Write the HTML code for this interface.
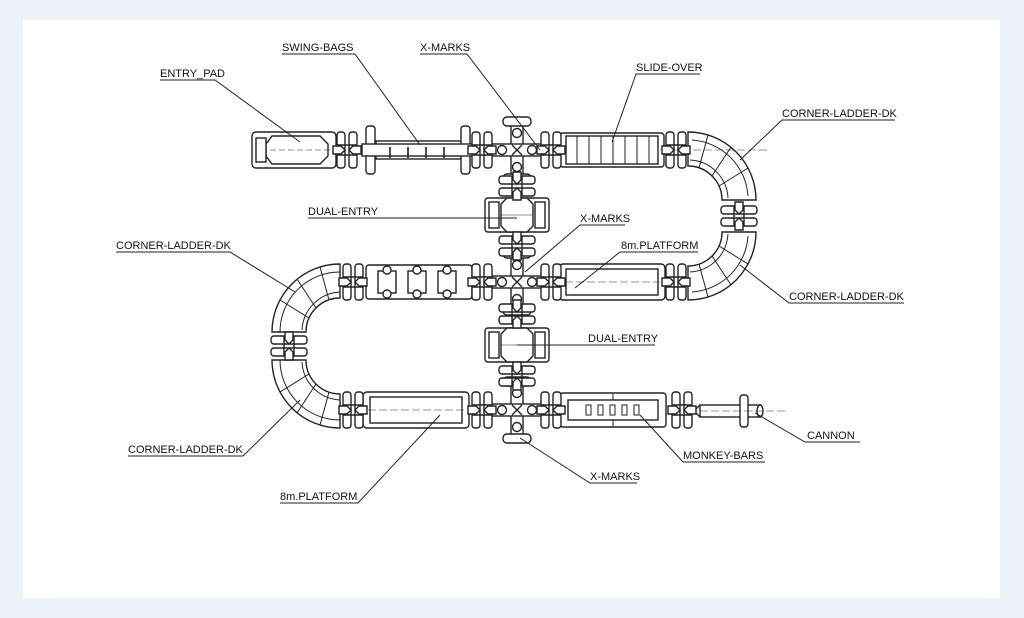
<!DOCTYPE html>
<html><head><meta charset="utf-8"><style>
html,body{margin:0;padding:0;background:#edf1f8;}
svg{display:block}
text{font-family:"Liberation Sans",sans-serif;font-size:11px;fill:#111;}
</style></head><body>
<svg width="1024" height="618" viewBox="0 0 1024 618" xmlns="http://www.w3.org/2000/svg">
<rect x="0" y="0" width="1024" height="618" fill="#edf1f8"/>
<rect x="23" y="20" width="977" height="578" fill="#fff"/>
<defs>
  <g id="cn" fill="#fff" stroke="#222" stroke-width="1.4">
    <rect x="-10" y="-18" width="8" height="36" rx="3"/>
    <rect x="2" y="-18" width="8" height="36" rx="3"/>
    <line x1="-10" y1="-5" x2="10" y2="-5"/><line x1="-10" y1="5" x2="10" y2="5"/>
    <path d="M-14 -4 L-6 -4 L-2 0 L-6 4 L-14 4 Z"/>
    <path d="M14 -4 L6 -4 L2 0 L6 4 L14 4 Z"/>
  </g>
  <g id="xm" fill="#fff" stroke="#222" stroke-width="1.4">
    <rect x="-6" y="-32" width="12" height="64"/>
    <rect x="-27" y="-6" width="54" height="12"/>
    <rect x="-14" y="-33" width="28" height="9" rx="4"/>
    <rect x="-14" y="24" width="28" height="9" rx="4"/>
    <circle cx="0" cy="-17" r="4.5"/><circle cx="0" cy="17" r="4.5"/>
    <circle cx="-15" cy="0" r="4.5"/><circle cx="15" cy="0" r="4.5"/>
    <path d="M-5 -5 L5 5 M-5 5 L5 -5"/>
  </g>
  <g id="de" fill="#fff" stroke="#222" stroke-width="1.4">
    <rect x="-32" y="-17" width="64" height="34" rx="3"/>
    <rect x="-28" y="-13" width="10" height="26"/><rect x="18" y="-13" width="10" height="26"/>
    <path d="M-10 -17 L10 -17 L16 -11 L16 11 L10 17 L-10 17 L-16 11 L-16 -11 Z"/>
    <line x1="-16" y1="0" x2="16" y2="0" stroke-width="0.6"/>
  </g>
  <g id="plat" fill="#fff" stroke="#222" stroke-width="1.4">
    <rect x="-53" y="-18" width="106" height="36" rx="4"/>
    <rect x="-46" y="-13" width="92" height="26"/>
  </g>
</defs>

<g fill="#fff" stroke="#222" stroke-width="1.4">
<rect x="252" y="132" width="84" height="36" rx="4"/>
<path d="M272 136 L320 136 L328 144 L328 156 L320 164 L272 164 L266 156 L266 144 Z"/>
<rect x="256" y="138" width="10" height="24"/>
<line x1="270" y1="150" x2="330" y2="150" stroke-width="0.5" stroke-dasharray="6 3"/>
<rect x="376" y="141" width="86" height="18"/>
<rect x="366" y="126" width="9" height="48" rx="3"/>
<rect x="461" y="126" width="9" height="48" rx="3"/>
<rect x="362" y="144" width="112" height="12"/>
<g stroke-width="1.6"><line x1="390" y1="147" x2="390" y2="158"/><line x1="408" y1="147" x2="408" y2="158"/><line x1="426" y1="147" x2="426" y2="158"/><line x1="444" y1="147" x2="444" y2="158"/></g>
<rect x="560" y="133" width="104" height="34" rx="3"/>
<rect x="566" y="136" width="92" height="28"/>
<g stroke-width="1"><line x1="577" y1="136" x2="577" y2="164"/><line x1="589" y1="136" x2="589" y2="164"/><line x1="601" y1="136" x2="601" y2="164"/><line x1="613" y1="136" x2="613" y2="164"/><line x1="625" y1="136" x2="625" y2="164"/><line x1="637" y1="136" x2="637" y2="164"/><line x1="649" y1="136" x2="649" y2="164"/></g>
<path d="M688 132 A68 68 0 0 1 756 200 L722 200 A34 34 0 0 0 688 166 Z"/>
<path d="M688 300 A68 68 0 0 0 756 232 L722 232 A34 34 0 0 1 688 266 Z"/>
<g stroke-width="1">
<line x1="708" y1="135" x2="699" y2="168"/><line x1="731" y1="147" x2="712" y2="176"/><line x1="748" y1="168" x2="719" y2="186"/>
<line x1="708" y1="297" x2="699" y2="264"/><line x1="731" y1="285" x2="712" y2="256"/><line x1="748" y1="264" x2="719" y2="246"/>
<path d="M692 140 A60 60 0 0 1 748 196 M692 292 A60 60 0 0 0 748 236 M690 160 A40 40 0 0 1 728 198 M690 272 A40 40 0 0 0 728 234" fill="none"/>
</g>
<path d="M340 264 A68 68 0 0 0 272 332 L306 332 A34 34 0 0 1 340 298 Z"/>
<path d="M340 428 A68 68 0 0 1 272 360 L306 360 A34 34 0 0 0 340 394 Z"/>
<g stroke-width="1">
<line x1="320" y1="267" x2="329" y2="300"/><line x1="297" y1="279" x2="316" y2="308"/><line x1="280" y1="300" x2="309" y2="318"/>
<line x1="320" y1="425" x2="329" y2="392"/><line x1="297" y1="413" x2="316" y2="384"/><line x1="280" y1="392" x2="309" y2="374"/>
<path d="M340 272 A60 60 0 0 0 280 332 M340 420 A60 60 0 0 1 280 360 M340 292 A40 40 0 0 0 302 330 M340 400 A40 40 0 0 1 302 362" fill="none"/>
</g>
<rect x="366" y="265" width="106" height="34" rx="3"/>
<rect x="378" y="271" width="18" height="22"/><rect x="408" y="271" width="18" height="22"/><rect x="438" y="271" width="18" height="22"/>
<circle cx="387" cy="270" r="4"/><circle cx="387" cy="294" r="4"/><circle cx="417" cy="270" r="4"/><circle cx="417" cy="294" r="4"/><circle cx="447" cy="270" r="4"/><circle cx="447" cy="294" r="4"/>
<rect x="560" y="393" width="106" height="34" rx="3"/>
<rect x="568" y="400" width="90" height="20"/>
<g stroke-width="1"><rect x="586" y="405" width="5" height="10"/><rect x="598" y="405" width="5" height="10"/><rect x="610" y="405" width="5" height="10"/><rect x="622" y="405" width="5" height="10"/><rect x="634" y="405" width="5" height="10"/><line x1="613" y1="393" x2="613" y2="400"/><line x1="613" y1="420" x2="613" y2="427"/></g>
<rect x="700" y="405" width="60" height="12"/>
<ellipse cx="760" cy="411" rx="3" ry="6"/>
<rect x="740" y="395" width="8" height="32" rx="3"/>
<path d="M700 405 L694 411 L700 417" fill="none"/>
</g>
<use href="#plat" x="612" y="282"/>
<use href="#plat" x="416" y="410"/>
<g stroke="#333" stroke-width="0.5" stroke-dasharray="8 3" fill="none">
<line x1="565" y1="282" x2="660" y2="282"/><line x1="368" y1="410" x2="465" y2="410"/><line x1="660" y1="150" x2="770" y2="150"/><line x1="700" y1="411" x2="785" y2="411"/>
</g>
<use href="#xm" x="517" y="150"/>
<use href="#xm" x="517" y="282"/>
<use href="#xm" x="517" y="410"/>
<use href="#de" x="517" y="215"/>
<use href="#de" x="517" y="345"/>
<use href="#cn" x="347" y="150"/><use href="#cn" x="482" y="150"/><use href="#cn" x="551" y="150"/><use href="#cn" x="676" y="150"/>
<use href="#cn" x="353" y="282"/><use href="#cn" x="482" y="282"/><use href="#cn" x="551" y="282"/><use href="#cn" x="676" y="282"/>
<use href="#cn" x="353" y="410"/><use href="#cn" x="482" y="410"/><use href="#cn" x="551" y="410"/><use href="#cn" x="682" y="410"/>
<use href="#cn" transform="translate(517,186) rotate(90)"/>
<use href="#cn" transform="translate(517,246) rotate(90)"/>
<use href="#cn" transform="translate(517,314) rotate(90)"/>
<use href="#cn" transform="translate(517,376) rotate(90)"/>
<use href="#cn" transform="translate(739,216) rotate(90)"/>
<use href="#cn" transform="translate(289,346) rotate(90)"/>

<g stroke="#222" stroke-width="1" fill="none">
<path d="M160 80 H215 L300 142"/>
<path d="M282 54 H355 L420 145"/>
<path d="M420 54 H467 L540 150"/>
<path d="M700 74 H636 L612 142"/>
<path d="M895 120 H782 L740 160"/>
<path d="M308 218 H517"/>
<path d="M625 225 H580 L525 272"/>
<path d="M698 252 H620 L575 288"/>
<path d="M116 252 H230 L295 292"/>
<path d="M904 303 H789 L740 265"/>
<path d="M655 345 H517"/>
<path d="M128 456 H243 L300 400"/>
<path d="M860 442 H805 L755 413"/>
<path d="M765 462 H683 L640 415"/>
<path d="M637 483 H590 L520 438"/>
<path d="M280 503 H358 L440 415"/>
</g>
<text x="160" y="77">ENTRY_PAD</text>
<text x="282" y="51">SWING-BAGS</text>
<text x="420" y="51">X-MARKS</text>
<text x="636" y="71">SLIDE-OVER</text>
<text x="782" y="117">CORNER-LADDER-DK</text>
<text x="308" y="215">DUAL-ENTRY</text>
<text x="580" y="222">X-MARKS</text>
<text x="621" y="249">8m.PLATFORM</text>
<text x="116" y="249">CORNER-LADDER-DK</text>
<text x="789" y="300">CORNER-LADDER-DK</text>
<text x="588" y="342">DUAL-ENTRY</text>
<text x="128" y="453">CORNER-LADDER-DK</text>
<text x="807" y="439">CANNON</text>
<text x="683" y="459">MONKEY-BARS</text>
<text x="590" y="480">X-MARKS</text>
<text x="280" y="500">8m.PLATFORM</text>
</svg>
</body></html>
